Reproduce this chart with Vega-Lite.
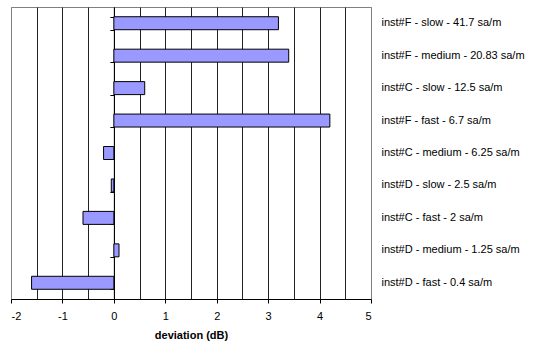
{
  "$schema": "https://vega.github.io/schema/vega-lite/v6.json",
  "width": 360,
  "height": 292,
  "autosize": "none",
  "padding": {"left": 11, "top": 7, "right": 168, "bottom": 48},
  "background": "white",
  "config": {"font": "Liberation Sans", "view": {"stroke": "#808080", "strokeWidth": 1}},
  "data": {"values": [
    {"label": "inst#F - slow - 41.7 sa/m", "value": 3.2},
    {"label": "inst#F - medium - 20.83 sa/m", "value": 3.4},
    {"label": "inst#C - slow - 12.5 sa/m", "value": 0.6},
    {"label": "inst#F - fast - 6.7 sa/m", "value": 4.2},
    {"label": "inst#C - medium - 6.25 sa/m", "value": -0.2},
    {"label": "inst#D - slow - 2.5 sa/m", "value": -0.05},
    {"label": "inst#C - fast - 2 sa/m", "value": -0.6},
    {"label": "inst#D - medium - 1.25 sa/m", "value": 0.1},
    {"label": "inst#D - fast - 0.4 sa/m", "value": -1.6}
  ]},
  "resolve": {"axis": {"y": "independent"}},
  "encoding": {
    "x": {"field": "value", "type": "quantitative",
      "scale": {"domain": [-2, 5], "nice": false, "zero": false},
      "axis": {"title": "deviation (dB)", "titleFontSize": 11, "titleFontWeight": "bold",
        "titleColor": "#000", "titlePadding": 8,
        "values": [-2, -1.5, -1, -0.5, 0, 0.5, 1, 1.5, 2, 2.5, 3, 3.5, 4, 4.5, 5],
        "labelExpr": "datum.value % 1 === 0 ? '' + datum.value : ''",
        "labelFontSize": 11, "labelColor": "#000", "labelPadding": 7,
        "grid": true,
        "gridColor": {"condition": {"test": "datum.value == -2 || datum.value == 5", "value": "#808080"}, "value": "#222"},
        "gridWidth": 1,
        "domainColor": "#000", "tickColor": "#000", "tickSize": 4,
        "tickOpacity": {"condition": {"test": "datum.value % 1 !== 0", "value": 0}, "value": 1}}}
  },
  "layer": [
    {
      "mark": {"type": "bar", "opacity": 0},
      "encoding": {
        "y": {"field": "label", "type": "nominal", "sort": null,
          "scale": {"paddingInner": 0.6, "paddingOuter": 0.3},
          "axis": {"orient": "left", "offset": -102.86, "title": null, "labels": false,
            "domain": true, "domainColor": "#000", "ticks": true, "tickBand": "extent",
            "tickColor": "#000", "tickSize": 4, "grid": false}}
      }
    },
    {
      "mark": {"type": "bar", "fill": "#9999FF", "stroke": "#000", "strokeWidth": 1},
      "encoding": {
        "y": {"field": "label", "type": "nominal", "sort": null,
          "axis": {"orient": "right", "title": null, "domain": false, "ticks": false,
            "labelFontSize": 11, "labelColor": "#000", "labelPadding": 10, "labelLimit": 200, "grid": false}}
      }
    }
  ]
}
